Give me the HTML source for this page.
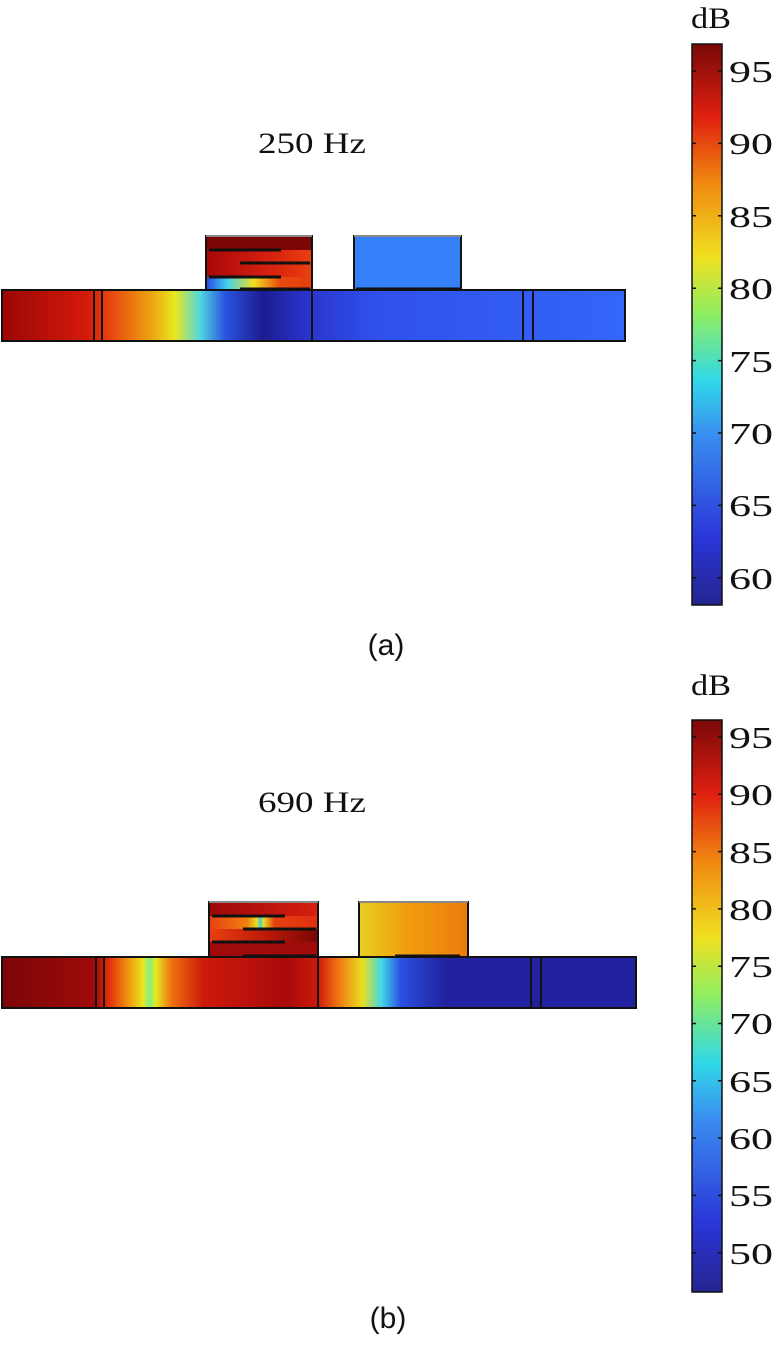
<!DOCTYPE html>
<html><head><meta charset="utf-8"><style>
html,body{margin:0;padding:0;background:#fff;width:776px;height:1352px;overflow:hidden}
svg{display:block}
</style></head><body>
<svg width="776" height="1352" viewBox="0 0 776 1352" xmlns="http://www.w3.org/2000/svg">
<defs>
<linearGradient id="jet" x1="0" y1="1" x2="0" y2="0">
<stop offset="0" stop-color="#24248f"/><stop offset="0.12" stop-color="#2a36d8"/>
<stop offset="0.3" stop-color="#3a8cf0"/><stop offset="0.4" stop-color="#30d8e8"/>
<stop offset="0.52" stop-color="#90ee60"/><stop offset="0.62" stop-color="#f0e020"/>
<stop offset="0.75" stop-color="#f08a10"/><stop offset="0.87" stop-color="#e02010"/>
<stop offset="1" stop-color="#7a0808"/></linearGradient>
<linearGradient id="t1" x1="0" y1="0" x2="625" y2="0" gradientUnits="userSpaceOnUse">
<stop offset="0" stop-color="#9a0606"/><stop offset="0.14" stop-color="#d41a0a"/>
<stop offset="0.18" stop-color="#e84a10"/><stop offset="0.24" stop-color="#eda010"/>
<stop offset="0.28" stop-color="#e8e820"/><stop offset="0.32" stop-color="#50d8e0"/>
<stop offset="0.36" stop-color="#2a55e0"/><stop offset="0.42" stop-color="#1c1c90"/>
<stop offset="0.49" stop-color="#2a34cc"/><stop offset="0.6" stop-color="#3050ec"/>
<stop offset="1" stop-color="#3366fa"/></linearGradient>
<linearGradient id="t1b" x1="206" y1="0" x2="312" y2="0" gradientUnits="userSpaceOnUse">
<stop offset="0" stop-color="#2848e0"/><stop offset="0.2" stop-color="#40d0f0"/>
<stop offset="0.45" stop-color="#f0e020"/><stop offset="0.7" stop-color="#e84a10"/>
<stop offset="1" stop-color="#e83c0c"/></linearGradient>
<linearGradient id="t1c" x1="206" y1="0" x2="312" y2="0" gradientUnits="userSpaceOnUse">
<stop offset="0" stop-color="#a80808"/><stop offset="0.6" stop-color="#d82010"/>
<stop offset="1" stop-color="#e84010"/></linearGradient>
<linearGradient id="t2" x1="0" y1="0" x2="636" y2="0" gradientUnits="userSpaceOnUse">
<stop offset="0" stop-color="#7a0606"/><stop offset="0.15" stop-color="#a00a0a"/>
<stop offset="0.17" stop-color="#e02a0c"/><stop offset="0.2" stop-color="#f09010"/>
<stop offset="0.225" stop-color="#e8e820"/><stop offset="0.235" stop-color="#80f080"/>
<stop offset="0.245" stop-color="#e8e820"/><stop offset="0.27" stop-color="#f07010"/>
<stop offset="0.32" stop-color="#cc1a0a"/><stop offset="0.45" stop-color="#a80a0a"/>
<stop offset="0.5" stop-color="#cc1a0a"/><stop offset="0.53" stop-color="#f07010"/>
<stop offset="0.57" stop-color="#e8e020"/><stop offset="0.6" stop-color="#40d8e8"/>
<stop offset="0.63" stop-color="#2a50e0"/><stop offset="0.7" stop-color="#2222a0"/>
<stop offset="1" stop-color="#2222a0"/></linearGradient>
<linearGradient id="b2r" x1="359" y1="0" x2="468" y2="0" gradientUnits="userSpaceOnUse">
<stop offset="0" stop-color="#e8d020"/><stop offset="0.4" stop-color="#f0a010"/>
<stop offset="1" stop-color="#ec7a0c"/></linearGradient>
<linearGradient id="b1l" x1="209" y1="0" x2="318" y2="0" gradientUnits="userSpaceOnUse">
<stop offset="0" stop-color="#e84010"/><stop offset="0.35" stop-color="#f08010"/>
<stop offset="0.44" stop-color="#e8e020"/><stop offset="0.47" stop-color="#40c8e8"/>
<stop offset="0.5" stop-color="#e8e020"/><stop offset="0.6" stop-color="#e84010"/>
<stop offset="1" stop-color="#e03010"/></linearGradient>
<linearGradient id="b1t" x1="209" y1="0" x2="318" y2="0" gradientUnits="userSpaceOnUse">
<stop offset="0" stop-color="#9a0808"/><stop offset="1" stop-color="#d82010"/></linearGradient>
<linearGradient id="b1m" x1="209" y1="0" x2="318" y2="0" gradientUnits="userSpaceOnUse">
<stop offset="0" stop-color="#e84010"/><stop offset="0.5" stop-color="#c01a0a"/><stop offset="1" stop-color="#7a0606"/></linearGradient>
</defs>
<g font-family="Liberation Serif, serif" fill="#111" font-size="30">
<text x="258" y="153" textLength="108" lengthAdjust="spacingAndGlyphs">250 Hz</text>
<text x="258" y="812" textLength="108" lengthAdjust="spacingAndGlyphs">690 Hz</text>
<text x="691" y="28" textLength="40" lengthAdjust="spacingAndGlyphs">dB</text>
<text x="691" y="695" textLength="40" lengthAdjust="spacingAndGlyphs">dB</text>
</g>
<g font-family="Liberation Sans, sans-serif" font-size="30" fill="#111" text-anchor="middle">
<text x="386" y="655">(a)</text><text x="388" y="1328">(b)</text>
</g>

<!-- panel a -->
<rect x="2" y="290" width="623" height="51" fill="url(#t1)"/>
<rect x="206" y="236" width="106" height="14" fill="#7a0606"/>
<rect x="206" y="250" width="106" height="13" fill="url(#t1c)"/>
<rect x="206" y="263" width="106" height="14" fill="url(#t1c)"/>
<rect x="206" y="277" width="106" height="13" fill="url(#t1b)"/>
<rect x="354" y="236" width="107" height="54" fill="#3380f8"/>
<g fill="none" stroke="#111" stroke-width="2">
<rect x="2" y="290" width="623" height="51"/>
<path d="M206 290V236H312V290M354 290V236H461V290M94 290V341M102 290V341M312 290V341M523 290V341M533 290V341"/>
</g>
<g stroke="#111" stroke-width="3"><path d="M209 250H281M240 263H310M209 277H281M240 289H310M356 289H460"/></g>
<rect x="206" y="235" width="106" height="2" fill="#888"/><rect x="354" y="235" width="107" height="2" fill="#888"/>

<!-- panel b -->
<rect x="2" y="957" width="634" height="51" fill="url(#t2)"/>
<rect x="209" y="902" width="109" height="14" fill="url(#b1t)"/>
<rect x="209" y="916" width="109" height="13" fill="url(#b1l)"/>
<rect x="209" y="929" width="109" height="13" fill="url(#b1m)"/>
<rect x="209" y="942" width="109" height="15" fill="#a00a0a"/>
<rect x="359" y="902" width="109" height="55" fill="url(#b2r)"/>
<g fill="none" stroke="#111" stroke-width="2">
<rect x="2" y="957" width="634" height="51"/>
<path d="M209 957V902H318V957M359 957V902H468V957M96 957V1008M104 957V1008M318 957V1008M531 957V1008M541 957V1008"/>
</g>
<g stroke="#111" stroke-width="3"><path d="M212 916H285M243 929H316M212 942H285M243 956H316M395 956H460"/></g>
<rect x="209" y="901" width="109" height="2" fill="#888"/><rect x="359" y="901" width="109" height="2" fill="#888"/>

<!-- colorbars -->
<rect x="692" y="44" width="30" height="561" fill="url(#jet)" stroke="#111" stroke-width="1.5"/>
<rect x="692" y="720" width="30" height="572" fill="url(#jet)" stroke="#111" stroke-width="1.5"/>
<g stroke="#111" stroke-width="1.5">
<path d="M692 71h4M718 71h4M692 143.4h4M718 143.4h4M692 215.8h4M718 215.8h4M692 288.2h4M718 288.2h4M692 360.6h4M718 360.6h4M692 433h4M718 433h4M692 505.4h4M718 505.4h4M692 577.8h4M718 577.8h4"/>
<path d="M692 737h4M718 737h4M692 794.3h4M718 794.3h4M692 851.6h4M718 851.6h4M692 908.9h4M718 908.9h4M692 966.2h4M718 966.2h4M692 1023.5h4M718 1023.5h4M692 1080.8h4M718 1080.8h4M692 1138.1h4M718 1138.1h4M692 1195.4h4M718 1195.4h4M692 1252.7h4M718 1252.7h4"/>
</g>
<g font-family="Liberation Serif, serif" font-size="31" fill="#111">
<text x="729" y="82" textLength="44" lengthAdjust="spacingAndGlyphs">95</text><text x="729" y="154" textLength="44" lengthAdjust="spacingAndGlyphs">90</text><text x="729" y="227" textLength="44" lengthAdjust="spacingAndGlyphs">85</text><text x="729" y="299" textLength="44" lengthAdjust="spacingAndGlyphs">80</text>
<text x="729" y="372" textLength="44" lengthAdjust="spacingAndGlyphs">75</text><text x="729" y="444" textLength="44" lengthAdjust="spacingAndGlyphs">70</text><text x="729" y="516" textLength="44" lengthAdjust="spacingAndGlyphs">65</text><text x="729" y="589" textLength="44" lengthAdjust="spacingAndGlyphs">60</text>
<text x="729" y="748" textLength="44" lengthAdjust="spacingAndGlyphs">95</text><text x="729" y="805" textLength="44" lengthAdjust="spacingAndGlyphs">90</text><text x="729" y="863" textLength="44" lengthAdjust="spacingAndGlyphs">85</text><text x="729" y="920" textLength="44" lengthAdjust="spacingAndGlyphs">80</text>
<text x="729" y="977" textLength="44" lengthAdjust="spacingAndGlyphs">75</text><text x="729" y="1034" textLength="44" lengthAdjust="spacingAndGlyphs">70</text><text x="729" y="1092" textLength="44" lengthAdjust="spacingAndGlyphs">65</text><text x="729" y="1149" textLength="44" lengthAdjust="spacingAndGlyphs">60</text>
<text x="729" y="1206" textLength="44" lengthAdjust="spacingAndGlyphs">55</text><text x="729" y="1264" textLength="44" lengthAdjust="spacingAndGlyphs">50</text>
</g>
</svg>
</body></html>
